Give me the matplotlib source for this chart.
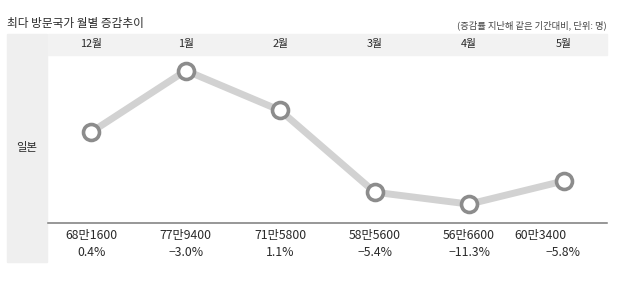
import matplotlib.pyplot as plt
import matplotlib.transforms as mtransforms
from matplotlib.patches import Rectangle

plt.rcParams['font.family'] = ['Noto Sans CJK KR', 'DejaVu Sans']

months = ['12월', '1월', '2월', '3월', '4월', '5월']
visitors = [681600, 779400, 715800, 585600, 566600, 603400]
visitor_labels = ['68만1600', '77만9400', '71만5800', '58만5600', '56만6600', '60만3400']
change_labels = ['0.4%', '−3.0%', '1.1%', '−5.4%', '−11.3%', '−5.8%']
country = '일본'
title = '최다 방문국가 월별 증감추이'
note = '(증감률 지난해 같은 기간대비, 단위: 명)'

W, H = 625, 301
fig = plt.figure(figsize=(W / 100, H / 100), dpi=100)


def fy(py):
    return (H - py) / H


def fx(px):
    return px / W


# background panels (behind the axes)
fig.patches.append(Rectangle((fx(7), fy(262)), fx(40), (262 - 34) / H,
                             transform=fig.transFigure, color='#efefef', zorder=-2))
fig.patches.append(Rectangle((fx(48), fy(55)), fx(559), (55 - 34) / H,
                             transform=fig.transFigure, color='#f2f2f2', zorder=-2))

ax = fig.add_axes([fx(48), fy(223), fx(559), (223 - 55) / H])
ax.patch.set_alpha(0)
x = list(range(len(months)))
ax.plot(x, visitors, color='#d2d2d2', lw=5, solid_capstyle='butt', zorder=2)
ax.plot(x, visitors, 'o', ms=11.5, mfc='white', mec='#8c8c8c', mew=2.6, zorder=3)
ax.set_xlim(-0.46, 5.46)
ax.set_ylim(536500, 804200)
ax.set_xticks([])
ax.set_yticks([])
for s in ['top', 'left', 'right']:
    ax.spines[s].set_visible(False)
ax.spines['bottom'].set_color('#7a7a7a')
ax.spines['bottom'].set_linewidth(1.1)

tr = mtransforms.blended_transform_factory(ax.transData, fig.transFigure)
txt = '#2a2a2a'
for i, m in enumerate(months):
    ax.text(i, fy(44.5), m, transform=tr, ha='center', va='center', fontsize=7.8, color=txt)

for i in x:
    off1, off2 = (0, 0) if i < 5 else (-23, -1)
    t1 = mtransforms.offset_copy(tr, fig=fig, x=off1, y=0, units='dots')
    t2 = mtransforms.offset_copy(tr, fig=fig, x=off2, y=0, units='dots')
    ax.text(i, fy(235.5), visitor_labels[i], transform=t1, ha='center', va='center',
            fontsize=8.8, color=txt)
    ax.text(i, fy(253), change_labels[i], transform=t2, ha='center', va='center',
            fontsize=8.8, color=txt)

fig.text(fx(7), fy(23), title, ha='left', va='center', fontsize=8.4, color='#2a2a2a')
fig.text(fx(607), fy(25), note, ha='right', va='center', fontsize=6.7, color='#444444')
fig.text(fx(27), fy(147), country, ha='center', va='center', fontsize=8.2, color=txt)

fig.savefig('out.png', dpi=100)
